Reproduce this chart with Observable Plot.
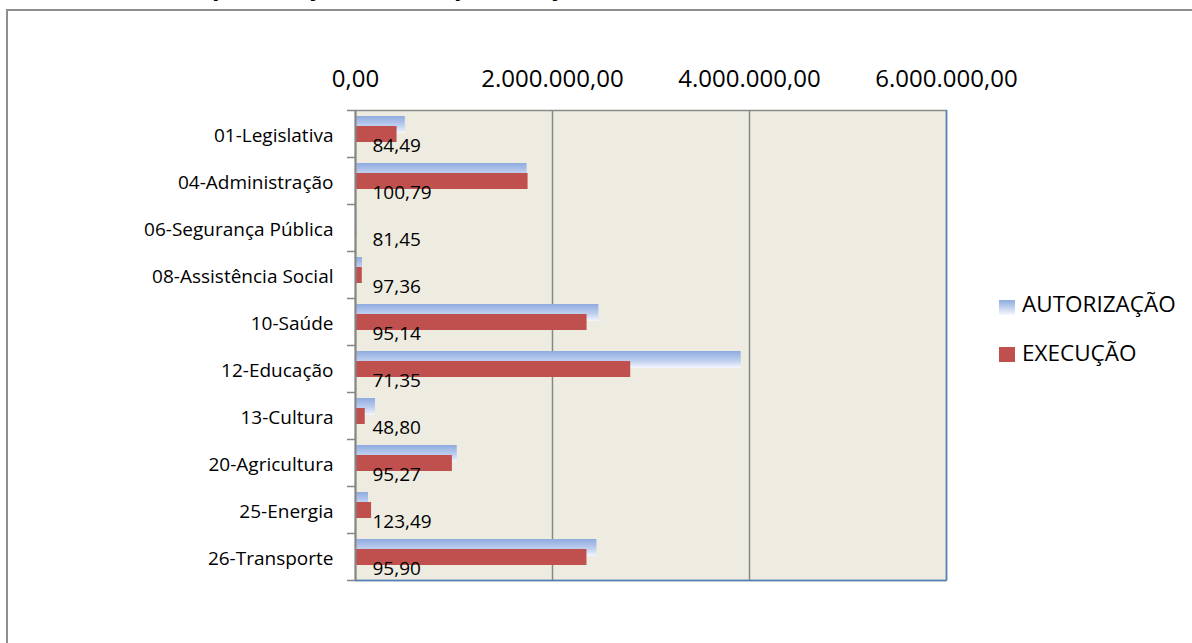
<!DOCTYPE html>
<html>
<head>
<meta charset="utf-8">
<script src="https://cdn.jsdelivr.net/npm/d3@7"></script>
<script src="https://cdn.jsdelivr.net/npm/@observablehq/plot@0.6"></script>
<style>
  html, body { margin: 0; padding: 0; background: #ffffff; overflow: hidden; }
  body { width: 1192px; height: 643px; position: relative; font-family: "Open Sans", sans-serif; }
  #frame { position: absolute; left: 6px; top: 9px; width: 1300px; height: 800px;
           border-left: 2px solid #8e8e8e; border-top: 2px solid #8e8e8e; box-sizing: border-box; }
  #title { position: absolute; left: 167px; top: -31px; font-size: 24.6px; font-weight: bold;
           white-space: nowrap; color: #000; line-height: normal; }
  #chart { position: absolute; left: 0; top: 0; }
  .lg-sw { position: absolute; left: 999px; width: 16px; height: 15px; }
  .lg-tx { position: absolute; left: 1022px; font-size: 22.5px; line-height: 30px; color: #000; white-space: nowrap; }
</style>
</head>
<body>
<div id="frame"></div>
<div id="title">Despesa Orçamentária por Função</div>
<div id="chart"></div>
<div id="legend"></div>
<script>
// ---- data ----
const categories = [
  "01-Legislativa", "04-Administração", "06-Segurança Pública", "08-Assistência Social",
  "10-Saúde", "12-Educação", "13-Cultura", "20-Agricultura", "25-Energia", "26-Transporte"
];
const autorizacao = [506000, 1742000, 15000, 71000, 2471000, 3916000, 203000, 1033000, 132000, 2451000];
const execucao    = [422000, 1752000, 12200, 69000, 2351000, 2794000,  99000,  984000, 163000, 2350000];
const percentuais = ["84,49", "100,79", "81,45", "97,36", "95,14", "71,35", "48,80", "95,27", "123,49", "95,90"];
const xTicks = [0, 2000000, 4000000, 6000000];
const seriesNames = ["AUTORIZAÇÃO", "EXECUÇÃO"];

const rows = categories.map((c, i) => ({
  categoria: c, autorizacao: autorizacao[i], execucao: execucao[i], pct: percentuais[i]
}));

const br = d3.formatLocale({decimal: ",", thousands: ".", grouping: [3], currency: ["R$ ", ""]});
const fmt = br.format(",.2f");

const gradientDefs = () => {
  const defs = d3.create("svg:defs");
  const g = defs.append("linearGradient").attr("id", "gradAut")
    .attr("x1", 0).attr("y1", 0).attr("x2", 0).attr("y2", 1);
  g.append("stop").attr("offset", "0%").attr("stop-color", "#8FABDF");
  g.append("stop").attr("offset", "55%").attr("stop-color", "#BCCDEE");
  g.append("stop").attr("offset", "100%").attr("stop-color", "#F4F7FD");
  return defs.node();
};

const lastCat = categories[categories.length - 1];

const chart = Plot.plot({
  width: 1192,
  height: 643,
  marginLeft: 355,
  marginRight: 246,
  marginTop: 110,
  marginBottom: 63,
  style: {fontFamily: "'Open Sans', sans-serif", background: "transparent", color: "#000"},
  x: {domain: [0, 6000000]},
  y: {domain: categories, padding: 0},
  marks: [
    gradientDefs,
    Plot.frame({fill: "#EEECE1", stroke: "#8a8a8a", strokeWidth: 1.5}),
    Plot.gridX(xTicks.slice(1, 3), {stroke: "#878787", strokeOpacity: 1, strokeWidth: 1.5}),
    Plot.ruleX([6000000], {stroke: "#4F81BD", strokeWidth: 1.5}),
    Plot.ruleY([lastCat], {dy: 23.5, stroke: "#4F81BD", strokeWidth: 1.5}),
    Plot.barX(rows, {y: "categoria", x: "autorizacao", fill: "url(#gradAut)", insetTop: 6, insetBottom: 24}),
    Plot.barX(rows, {y: "categoria", x: "execucao", fill: "#C0504D", insetTop: 16, insetBottom: 15}),
    Plot.ruleX([0], {stroke: "#868686", strokeWidth: 2}),
    Plot.ruleY(categories, {y: d => d, x1: 0, x2: 0, insetLeft: -8, dy: -23.5, stroke: "#868686", strokeWidth: 1.5}),
    Plot.ruleY([lastCat], {y: d => d, x1: 0, x2: 0, insetLeft: -8, dy: 23.5, stroke: "#868686", strokeWidth: 1.5}),
    Plot.text(rows, {x: 0, y: "categoria", text: "pct", textAnchor: "start", dx: 17, dy: 11.5, fontSize: 19, fill: "#000"}),
    Plot.axisX({ticks: xTicks, anchor: "top", tickSize: 0, tickPadding: 23.5, tickFormat: fmt, fontSize: 24, label: null}),
    Plot.axisY({anchor: "left", tickSize: 0, tickPadding: 22, fontSize: 19, dy: 2, label: null})
  ]
});
document.getElementById("chart").appendChild(chart);

// ---- legend ----
const legend = document.getElementById("legend");
const swatches = ["linear-gradient(#8FABDF, #F4F7FD)", "#C0504D"];
const swTops = [300, 347];
const txTops = [289, 338];
seriesNames.forEach((name, i) => {
  const sw = document.createElement("div");
  sw.className = "lg-sw";
  sw.style.top = swTops[i] + "px";
  sw.style.background = swatches[i];
  legend.appendChild(sw);
  const tx = document.createElement("div");
  tx.className = "lg-tx";
  tx.style.top = txTops[i] + "px";
  tx.textContent = name;
  legend.appendChild(tx);
});
</script>
</body>
</html>
